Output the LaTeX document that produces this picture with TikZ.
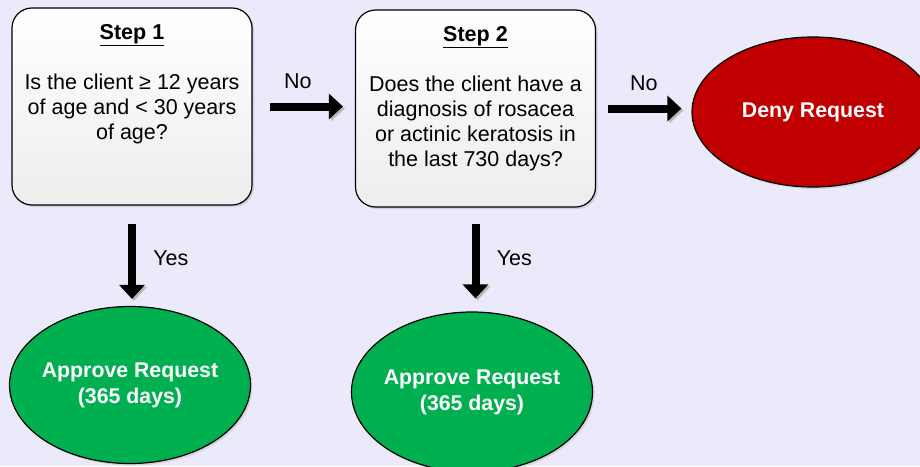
\documentclass[tikz,border=0pt]{standalone}
\usepackage{fontspec}
\setmainfont{Liberation Sans}
\usetikzlibrary{shapes.geometric,positioning,arrows.meta,shadows,calc}
\definecolor{bgpaper}{RGB}{234,234,250}
\definecolor{denyred}{RGB}{192,0,0}
\definecolor{okgreen}{RGB}{0,176,80}

\begin{document}
\begin{tikzpicture}[x=1pt,y=-1pt,
  stepbox/.style={draw,line width=1.2pt,rounded corners=20pt,
                  top color=white,bottom color=gray!14,
                  minimum width=240pt,minimum height=197pt,inner sep=0pt,
                  font=\fontsize{21.5}{24.8}\selectfont,
                  drop shadow={shadow xshift=2pt,shadow yshift=-2pt,opacity=0.25}},
  outcome/.style={ellipse,draw,line width=1.2pt,inner xsep=-6pt,inner ysep=0pt,
                  text=white,align=center,
                  font=\bfseries\fontsize{21.3}{26}\selectfont,
                  drop shadow={shadow xshift=2pt,shadow yshift=-2pt,opacity=0.2}},
  bigarrow/.style={line width=8pt,-{Triangle[width=25pt,length=14pt]},
                   preaction={draw=gray!55,transform canvas={shift={(2pt,-2pt)}}}},
  lbl/.style={font=\fontsize{21.5}{24}\selectfont}]
  % fond
  \fill[bgpaper] (0,0) rectangle (920,466);
  \clip (0,0) rectangle (920,466);
  % etapes
  \node[stepbox] (s1) at (132,106.5) {\parbox[c][185pt][t]{238pt}{\centering
    \vspace*{10pt}\textbf{\underline{Step 1}}\\[26pt]
    Is the client ≥ 12 years\\ of age and < 30 years\\ of age?}};
  \node[stepbox] (s2) at (475.5,108.5) {\parbox[c][185pt][t]{238pt}{\centering
    \vspace*{10pt}\textbf{\underline{Step 2}}\\[26pt]
    Does the client have a\\ diagnosis of rosacea\\ or actinic keratosis in\\ the last 730 days?}};
  % issues
  \node[outcome,fill=denyred,minimum width=242pt,minimum height=150pt] (deny) at (813,112) {Deny Request};
  \node[outcome,fill=okgreen,minimum width=241pt,minimum height=157pt] (ok1) at (130,385) {Approve Request\\(365 days)};
  \node[outcome,fill=okgreen,minimum width=241pt,minimum height=160pt] (ok2) at (472,392) {Approve Request\\(365 days)};
  % fleches
  \draw[bigarrow,shorten <=17pt,shorten >=12pt] (s1.east) -- (s1.east -| s2.west)
    node[lbl,midway,above=10pt,xshift=-6pt] {No};
  \draw[bigarrow,shorten <=12pt,shorten >=10pt] (s2.east) -- (s2.east -| deny.west)
    node[lbl,midway,above=10pt] {No};
  \draw[bigarrow,shorten <=18pt,shorten >=7pt] (s1.south) -- (s1.south |- ok1.north)
    node[lbl,midway,right=14pt,yshift=-2pt] {Yes};
  \draw[bigarrow,shorten <=16pt,shorten >=13pt] (s2.south) -- (s2.south |- ok2.north)
    node[lbl,midway,right=14pt,yshift=1pt] {Yes};
\end{tikzpicture}
\end{document}
